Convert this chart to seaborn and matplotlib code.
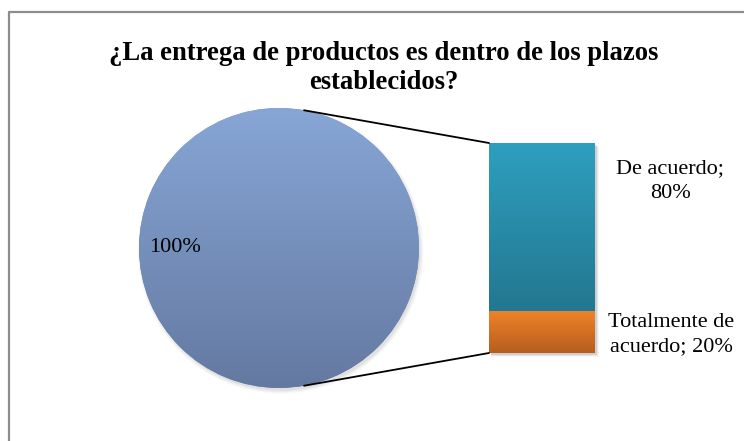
import numpy as np
import matplotlib
matplotlib.use("Agg")
import matplotlib.pyplot as plt
import seaborn as sns
from matplotlib.patches import ConnectionPatch, Circle, Rectangle
from matplotlib.colors import LinearSegmentedColormap
from matplotlib.lines import Line2D

# ---- data ----
title = "¿La entrega de productos es dentro de los plazos\nestablecidos?"
pie_values = [100]
pie_labels = ["100%"]
bar_categories = ["Totalmente de acuerdo", "De acuerdo"]
bar_values = [20, 80]
bar_labels = ["Totalmente de\nacuerdo; 20%", "De acuerdo;\n80%"]

# ---- style ----
sns.set_theme(style="white")
plt.rcParams["font.family"] = ["Liberation Serif", "DejaVu Serif"]
plt.rcParams["text.color"] = "black"

W, H = 744, 441
fig = plt.figure(figsize=(W / 100, H / 100), dpi=100)
fig.patch.set_facecolor("white")


def box(x0, y0, x1, y1):
    return [x0 / W, 1 - y1 / H, (x1 - x0) / W, (y1 - y0) / H]


def vgrad(top, bottom):
    return LinearSegmentedColormap.from_list("g", [top, bottom])


grad = np.linspace(0, 1, 256).reshape(-1, 1)

# chart frame (left and top edges)
fig.add_artist(Line2D([9 / W, 9 / W], [0, 1 - 12 / H], color="#8c8c8c", lw=1.6))
fig.add_artist(Line2D([9 / W, 1], [1 - 12 / H, 1 - 12 / H], color="#8c8c8c", lw=1.6))

fig.text(384 / W, 1 - 68 / H, title, ha="center", va="center", color="black",
         fontsize=19.2, fontweight="bold", linespacing=1.17)

# ---- pie ----
ax_pie = fig.add_axes(box(139, 108, 419, 388))
for k, a in enumerate([0.05, 0.04, 0.03]):
    ax_pie.add_patch(Circle((0.012, -0.02), 1.0 + 0.01 * k, color="black",
                            alpha=a, lw=0, zorder=0, clip_on=False))
wedges, _ = ax_pie.pie(pie_values, radius=1, startangle=90, counterclock=False,
                       colors=["#7891c0"], wedgeprops=dict(linewidth=0))
for w in wedges:
    w.set_zorder(1)
    img = ax_pie.imshow(grad, extent=[-1, 1, -1, 1], cmap=vgrad("#87a6d6", "#6479a1"),
                        aspect="auto", origin="upper", zorder=2)
    img.set_clip_path(w)
ax_pie.text(-0.925, 0.0, pie_labels[0], ha="left", va="center", fontsize=16, color="black", zorder=3)
ax_pie.set_xlim(-1, 1)
ax_pie.set_ylim(-1, 1)
ax_pie.set_aspect("equal")
ax_pie.axis("off")

# ---- stacked bar ----
ax_bar = fig.add_axes(box(489, 143, 595, 353))
bar_colors = [("#ee8229", "#b65e1e"), ("#2e9fbf", "#237790")]
bottom = 0
for val, cat, (c_top, c_bot) in zip(bar_values, bar_categories, bar_colors):
    bars = ax_bar.bar(0, val, bottom=bottom, width=1, color=c_top, lw=0, label=cat, zorder=1)
    patch = bars.patches[0]
    img = ax_bar.imshow(grad, extent=[-0.5, 0.5, bottom, bottom + val], cmap=vgrad(c_top, c_bot),
                        aspect="auto", origin="upper", zorder=2)
    img.set_clip_path(patch)
    bottom += val
total = bottom
# soft drop shadow along right and bottom edges
for k, a in enumerate([0.10, 0.06, 0.03]):
    ax_bar.add_patch(Rectangle((-0.5 + 0.02, -0.8 - 0.5 * k), 1.0 + 0.01 * k, total,
                               color="black", alpha=a, lw=0, zorder=0, clip_on=False))
ax_bar.set_xlim(-0.5, 0.5)
ax_bar.set_ylim(0, total)
ax_bar.axis("off")

label_y = [8.6, 81.9]
label_x = [1.72, 1.71]
label_spacing = [1.38, 1.45]
for txt, ly, lx, ls in zip(bar_labels, label_y, label_x, label_spacing):
    ax_bar.text(lx, ly, txt, transform=ax_bar.get_yaxis_transform(), ha="center", va="center",
                fontsize=16, color="black", linespacing=ls)

# ---- connector lines from pie to bar ----
theta = np.deg2rad(10.3)
for sgn, yb in [(1, total), (-1, 0)]:
    con = ConnectionPatch(xyA=(np.sin(theta), sgn * np.cos(theta)), coordsA=ax_pie.transData,
                          xyB=(-0.5, yb), coordsB=ax_bar.transData, color="black", lw=1.3)
    fig.add_artist(con)

fig.savefig("out.png", dpi=100)
